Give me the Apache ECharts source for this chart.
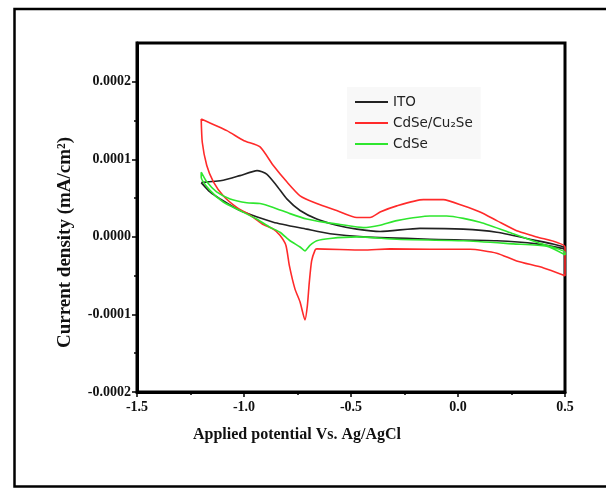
<!DOCTYPE html>
<html>
<head>
<meta charset="utf-8">
<script src="https://cdn.jsdelivr.net/npm/echarts@6/dist/echarts.min.js"></script>
<style>
html,body{margin:0;padding:0;background:#fff;}
#chart{width:606px;height:488px;}
</style>
</head>
<body>
<div id="chart"></div>
<script>
// Series names (legend)
const seriesNames = ['ITO', 'CdSe/Cu\u2082Se', 'CdSe'];
const seriesColors = ['#222222', '#ff2a2a', '#2ee62e'];

// Axis ticks
const xTicks = [-1.5, -1.0, -0.5, 0.0, 0.5];
const yTicks = [-0.0002, -0.0001, 0.0, 0.0001, 0.0002];
const yMinorTicks = [-0.00015, -0.00005, 0.00005, 0.00015];

// ITO: [potential (V), current density (mA/cm2)]
const itoData = [
  [-1.2, 0.70e-4], [-1.097, 0.73e-4], [-1.019, 0.79e-4], [-0.939, 0.855e-4], [-0.894, 0.81e-4],
  [-0.847, 0.66e-4], [-0.8, 0.49e-4], [-0.738, 0.34e-4], [-0.66, 0.23e-4], [-0.567, 0.15e-4],
  [-0.473, 0.10e-4], [-0.364, 0.07e-4], [-0.178, 0.11e-4], [0.025, 0.10e-4], [0.181, 0.06e-4],
  [0.336, -0.03e-4], [0.5, -0.14e-4],
  [0.5, -0.155e-4], [0.368, -0.09e-4], [0.181, -0.05e-4], [-0.131, -0.03e-4], [-0.443, 0.0e-4],
  [-0.598, 0.04e-4], [-0.707, 0.10e-4], [-0.863, 0.19e-4], [-1.019, 0.34e-4], [-1.112, 0.49e-4],
  [-1.159, 0.58e-4], [-1.2, 0.70e-4]
];

// CdSe/Cu2Se
const cdseCu2SeData = [
  [-1.2, 1.52e-4], [-1.08, 1.37e-4], [-1.0, 1.24e-4], [-0.925, 1.16e-4], [-0.863, 0.92e-4],
  [-0.8, 0.71e-4], [-0.738, 0.53e-4], [-0.66, 0.43e-4], [-0.567, 0.34e-4], [-0.473, 0.25e-4],
  [-0.411, 0.25e-4], [-0.364, 0.32e-4], [-0.286, 0.40e-4], [-0.162, 0.48e-4], [-0.069, 0.48e-4],
  [0.025, 0.40e-4], [0.103, 0.32e-4], [0.181, 0.21e-4], [0.274, 0.08e-4], [0.368, 0.0e-4],
  [0.5, -0.13e-4],
  [0.5, -0.50e-4], [0.4, -0.40e-4], [0.274, -0.31e-4], [0.181, -0.21e-4], [0.056, -0.16e-4],
  [-0.131, -0.16e-4], [-0.318, -0.155e-4], [-0.444, -0.17e-4], [-0.66, -0.155e-4], [-0.668, -0.17e-4],
  [-0.684, -0.31e-4], [-0.695, -0.59e-4], [-0.704, -0.89e-4], [-0.715, -1.07e-4], [-0.738, -0.84e-4],
  [-0.762, -0.67e-4], [-0.788, -0.37e-4], [-0.804, -0.11e-4], [-0.832, 0.02e-4], [-0.863, 0.10e-4],
  [-0.916, 0.17e-4], [-0.972, 0.28e-4], [-1.034, 0.38e-4], [-1.097, 0.53e-4], [-1.143, 0.71e-4],
  [-1.174, 0.92e-4], [-1.195, 1.22e-4], [-1.2, 1.52e-4]
];

// CdSe
const cdseData = [
  [-1.2, 0.835e-4], [-1.174, 0.71e-4], [-1.128, 0.58e-4], [-1.065, 0.49e-4], [-0.987, 0.44e-4],
  [-0.925, 0.43e-4], [-0.863, 0.38e-4], [-0.785, 0.30e-4], [-0.707, 0.23e-4], [-0.629, 0.19e-4],
  [-0.551, 0.16e-4], [-0.443, 0.12e-4], [-0.364, 0.15e-4], [-0.286, 0.21e-4], [-0.131, 0.27e-4],
  [-0.053, 0.27e-4], [0.103, 0.19e-4], [0.258, 0.04e-4], [0.368, -0.07e-4], [0.5, -0.20e-4],
  [0.5, -0.23e-4], [0.414, -0.12e-4], [0.258, -0.09e-4], [0.025, -0.05e-4], [-0.286, -0.03e-4],
  [-0.473, 0.0e-4], [-0.598, -0.02e-4], [-0.66, -0.05e-4], [-0.692, -0.11e-4], [-0.715, -0.18e-4],
  [-0.738, -0.13e-4], [-0.785, -0.05e-4], [-0.832, 0.06e-4], [-0.879, 0.125e-4], [-0.941, 0.23e-4],
  [-1.019, 0.34e-4], [-1.097, 0.45e-4], [-1.159, 0.60e-4], [-1.2, 0.77e-4], [-1.2, 0.835e-4]
];

const allData = [itoData, cdseCu2SeData, cdseData];

const chart = echarts.init(document.getElementById('chart'), null, {renderer: 'canvas'});
const serif = '"Liberation Serif", "Times New Roman", serif';
const yMax = 0.00025;

const option = {
  backgroundColor: '#ffffff',
  animation: false,
  graphic: [{
    type: 'rect',
    shape: {x: 14.5, y: 9, width: 640, height: 477.5},
    style: {fill: 'none', stroke: '#000', lineWidth: 2.5},
    silent: true,
    z: 0
  }],
  grid: {
    left: 137, right: 41, top: 43, bottom: 96,
    show: true, borderColor: '#000', borderWidth: 3, backgroundColor: 'transparent'
  },
  legend: {
    data: seriesNames,
    orient: 'vertical',
    left: 347, top: 87,
    padding: [8, 8, 8, 8],
    itemGap: 7,
    itemWidth: 33,
    itemHeight: 2,
    icon: 'rect',
    backgroundColor: '#f8f8f8',
    textStyle: {fontFamily: '"DejaVu Sans", sans-serif', fontSize: 13.5, color: '#222'}
  },
  xAxis: {
    type: 'value',
    min: xTicks[0], max: xTicks[xTicks.length - 1], interval: 0.5,
    name: 'Applied potential Vs. Ag/AgCl',
    nameLocation: 'middle', nameGap: 35,
    nameTextStyle: {fontFamily: serif, fontWeight: 'bold', fontSize: 16, color: '#111', padding: [0, 108, 0, 0]},
    axisLine: {onZero: false, lineStyle: {color: '#000', width: 3}},
    axisTick: {show: true, length: 5, lineStyle: {color: '#000', width: 1.5}},
    minorTick: {show: true, splitNumber: 2, length: 3, lineStyle: {color: '#000', width: 1.5}},
    splitLine: {show: false},
    axisLabel: {
      fontFamily: serif, fontWeight: 'bold', fontSize: 14, color: '#111', margin: 8,
      formatter: v => v.toFixed(1)
    }
  },
  yAxis: [{
    type: 'value',
    position: 'left',
    min: yTicks[0], max: yMax, interval: 0.0001,
    name: 'Current density (mA/cm\u00b2)',
    nameLocation: 'middle', nameGap: 62,
    nameTextStyle: {fontFamily: serif, fontWeight: 'bold', fontSize: 19, color: '#111', padding: [0, 50, 0, 0]},
    axisLine: {onZero: false, lineStyle: {color: '#000', width: 3}},
    axisTick: {show: true, customValues: yTicks, length: 5, lineStyle: {color: '#000', width: 1.5}},
    minorTick: {show: false},
    splitLine: {show: false},
    axisLabel: {
      customValues: yTicks,
      fontFamily: serif, fontWeight: 'bold', fontSize: 14, color: '#111', margin: 6,
      formatter: v => (Math.abs(v) < 1e-12 ? '0.0000' : v.toFixed(4))
    }
  }, {
    type: 'value',
    position: 'left',
    offset: 0,
    min: yTicks[0], max: yMax, interval: 0.0001,
    axisLine: {show: false, onZero: false},
    axisTick: {show: true, customValues: yMinorTicks, length: 3, lineStyle: {color: '#000', width: 1.5}},
    axisLabel: {show: false},
    splitLine: {show: false}
  }],
  series: seriesNames.map((n, i) => ({
    name: n,
    type: 'line',
    data: allData[i],
    showSymbol: false,
    symbol: 'none',
    smooth: 0.2,
    color: seriesColors[i],
    lineStyle: {color: seriesColors[i], width: 1.6},
    z: 3
  }))
};
chart.setOption(option);
</script>
</body>
</html>
